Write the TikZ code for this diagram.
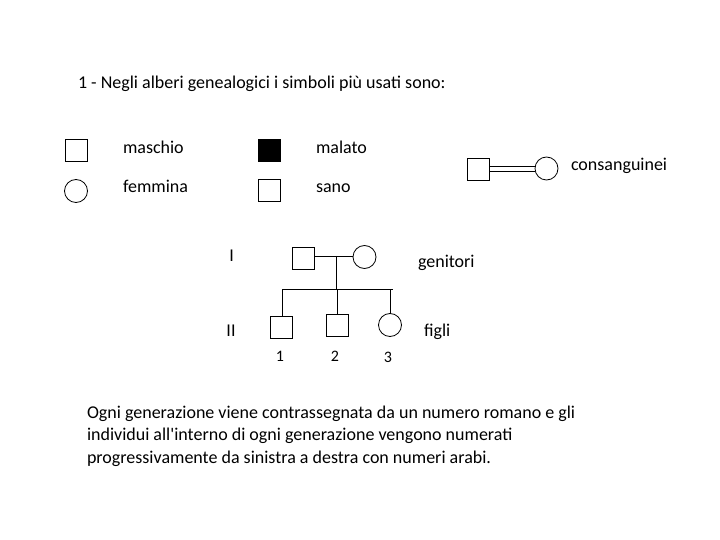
\documentclass[tikz,border=0pt]{standalone}
\usepackage{fontspec}
\setmainfont{Carlito}
\begin{document}
\begin{tikzpicture}[x=1bp,y=-1bp,
  every node/.style={inner sep=0pt,outer sep=0pt},
  txt/.style={font=\fontsize{18bp}{23bp}\selectfont,anchor=base west},
  num/.style={font=\fontsize{16bp}{18bp}\selectfont,anchor=base},
  msq/.style={draw,line width=0.8bp,minimum width=22bp,minimum height=22bp,rectangle},
  fcirc/.style={draw,line width=0.8bp,circle,minimum size=23bp},
  ln/.style={line width=0.8bp}]
\useasboundingbox (0,0) rectangle (720,540);
\node[txt] (title) at (78,89) {1 - Negli alberi genealogici i simboli più usati sono:};
% legend
\node[msq] (m) at (76.5,150) {};
\node[txt] (tm) at (123,153.5) {maschio};
\node[msq,fill=black] (ma) at (269,150) {};
\node[txt] (tma) at (316,153.5) {malato};
\node[fcirc] (f) at (76,191) {};
\node[txt] (tf) at (123,192.5) {femmina};
\node[msq] (s) at (269,190) {};
\node[txt] (ts) at (316,192.5) {sano};
% consanguinei
\node[msq] (cm) at (478,169) {};
\node[fcirc] (cf) at (546.5,168.5) {};
\draw[ln] ([yshift=-2bp]cm.east) -- ([yshift=-2bp]cm.east -| cf.west);
\draw[ln] ([yshift=2.5bp]cm.east) -- ([yshift=2.5bp]cm.east -| cf.west);
\node[txt] (tc) at (571,170.7) {consanguinei};
% pedigree
\node[txt,anchor=base] (gI) at (231.7,262) {I};
\node[txt,anchor=base] (gII) at (231,336) {II};
\node[msq] (fa) at (303.3,258) {};
\node[fcirc] (mo) at (364.5,257) {};
\coordinate (mid) at (336.7,256);
\coordinate (sib) at (336.7,289.3);
\coordinate (sibL) at (282.3,289.3);
\coordinate (sibR) at (392.7,289.3);
\draw[ln] (fa.east |- mid) -- (mo.west |- mid);
\draw[ln] (mid) -- (sib);
\draw[ln] (sibL) -- (sibR);
\node[msq] (c1) at (281,327.5) {};
\node[msq] (c2) at (337.8,325) {};
\node[fcirc] (c3) at (390,325) {};
\draw[ln] (sibL) -- (sibL |- c1.north);
\draw[ln] (c2.north |- sib) -- (c2.north);
\draw[ln] (c3.north |- sib) -- (c3.north);
\node[txt] (tg) at (418,267.7) {genitori};
\node[txt] (tfi) at (424,336.5) {figli};
\node[num] (n1) at (280,361) {1};
\node[num] (n2) at (335,361) {2};
\node[num] (n3) at (388,362) {3};
% paragraph
\node[txt] (p1) at (87,418) {Ogni generazione viene contrassegnata da un numero romano e gli};
\node[txt] (p2) at (87,440.5) {individui all\textquotesingle interno di ogni generazione vengono numerati};
\node[txt] (p3) at (87,463) {progressivamente da sinistra a destra con numeri arabi.};
\end{tikzpicture}
\end{document}
